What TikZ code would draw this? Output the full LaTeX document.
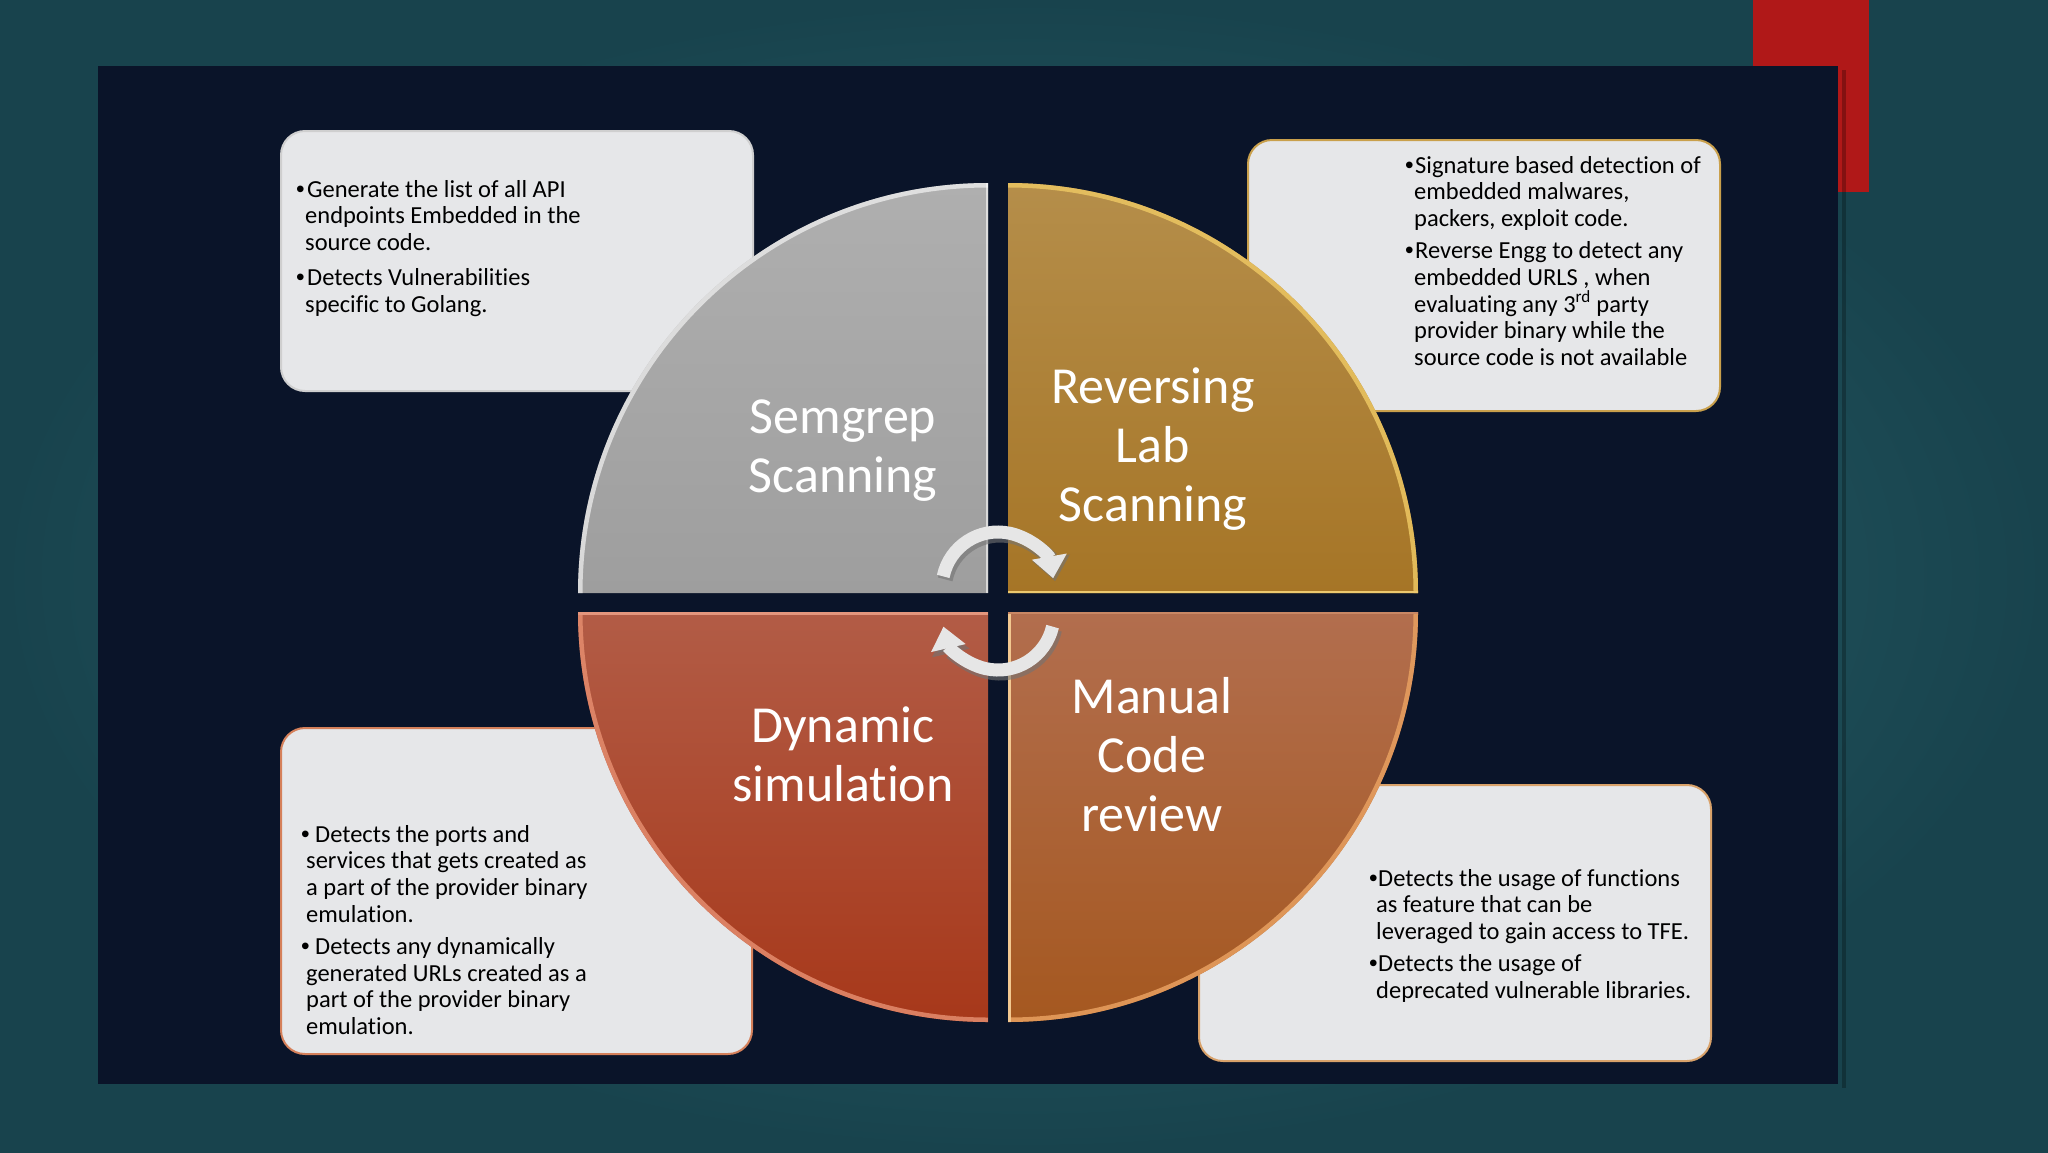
\documentclass[tikz,border=0pt]{standalone}
\usepackage{fontspec}
\setmainfont{Carlito}[Ligatures=NoCommon]
\newfontfamily\bulfont{Liberation Sans}
\usetikzlibrary{arrows.meta}
\definecolor{bgin}{HTML}{2D6872}
\definecolor{bgout}{HTML}{18434D}
\definecolor{panel}{HTML}{0A1429}
\definecolor{redbar}{HTML}{B01818}
\definecolor{boxfill}{HTML}{E6E7E9}
\definecolor{b1}{HTML}{CFCFCF}
\definecolor{b2}{HTML}{C9A04C}
\definecolor{b3}{HTML}{D5805A}
\definecolor{b4}{HTML}{D9A26A}
\definecolor{arrowc}{HTML}{E6E6E6}
\definecolor{graytop}{RGB}{175,175,175}
\definecolor{graybot}{RGB}{158,158,158}
\definecolor{goldtop}{RGB}{181,142,74}
\definecolor{goldbot}{RGB}{166,117,38}
\definecolor{goldrim}{RGB}{236,198,98}
\definecolor{goldedge}{RGB}{236,200,110}
\definecolor{redtop}{RGB}{178,92,70}
\definecolor{redbot}{RGB}{167,56,26}
\definecolor{redrim}{RGB}{228,140,110}
\definecolor{rededge}{RGB}{228,150,125}
\definecolor{ortop}{RGB}{178,110,78}
\definecolor{orbot}{RGB}{165,88,32}
\definecolor{orrim}{RGB}{232,160,96}
\definecolor{oredge}{RGB}{242,200,144}
\definecolor{ortopedge}{RGB}{200,135,100}
\newcommand{\bpara}[3]{\noindent\hangindent=#2\hangafter=1 \makebox[#1][l]{\bulfont •}#3\par}
\tikzset{
  tbox/.style={rectangle, rounded corners=24pt, fill=boxfill, line width=2pt, inner sep=0pt, anchor=north west},
  btext/.style={anchor=base west, inner sep=0pt, text=black, font=\fontsize{24.5}{26.8}\selectfont},
  qlabel/.style={anchor=base, inner sep=0pt, text=white, font=\fontsize{52}{59}\selectfont},
  cyc/.style={line width=13pt, draw=arrowc, -{Triangle[width=34pt,length=22pt,fill=arrowc]}},
  cycshadow/.style={line width=15pt, draw=black!55, opacity=0.6, -{Triangle[width=37pt,length=24pt]}},
}
\begin{document}
\begin{tikzpicture}[x=1pt,y=-1pt]
\useasboundingbox (0,0) rectangle (2048,1152);
% background
\shade[inner color=bgin, outer color=bgout] (0,0) rectangle (2048,1152);
\fill[redbar] (1753,0) rectangle (1869,192);
\fill[black, opacity=0.25] (1842,70) rectangle (1846,1088);
\fill[panel] (98,66) rectangle (1838,1084);

% text boxes
\node[tbox, draw=b1, minimum width=472pt, minimum height=260pt] (box1) at (280,130) {};
\node[tbox, draw=b2, minimum width=472pt, minimum height=271pt] (box2) at (1247,139) {};
\node[tbox, draw=b3, minimum width=471pt, minimum height=326pt] (box3) at (280,727) {};
\node[tbox, draw=b4, minimum width=512pt, minimum height=276pt] (box4) at (1198,784) {};

\node[btext] (t1) at (296,197) {\parbox[t]{440pt}{%
\bpara{11pt}{9pt}{Generate the list of all API\newline endpoints Embedded in the\newline source code.}\vspace{8pt}%
\bpara{11pt}{9pt}{Detects Vulnerabilities\newline specific to Golang.}}};

\node[btext] (t2) at (1405,173) {\parbox[t]{440pt}{%
\bpara{10pt}{9pt}{Signature based detection of\newline embedded malwares,\newline packers, exploit code.}\vspace{5pt}%
\bpara{10pt}{9pt}{Reverse Engg to detect any\newline embedded URLS , when\newline evaluating any 3\textsuperscript{rd} party\newline provider binary while the\newline source code is not available}}};

\node[btext] (t3) at (301,842) {\parbox[t]{440pt}{%
\bpara{14pt}{5pt}{Detects the ports and\newline services that gets created as\newline a part of the provider binary\newline emulation.}\vspace{5pt}%
\bpara{14pt}{5pt}{Detects any dynamically\newline generated URLs created as a\newline part of the provider binary\newline emulation.}}};

\node[btext] (t4) at (1369,886) {\parbox[t]{440pt}{%
\bpara{9pt}{7pt}{Detects the usage of functions\newline as feature that can be\newline leveraged to gain access to TFE.}\vspace{5pt}%
\bpara{9pt}{7pt}{Detects the usage of\newline deprecated vulnerable libraries.}}};

% quadrants
\shade[top color=graytop, bottom color=graybot]
  (988,593) -- ++(180:410) arc[start angle=180, end angle=270, radius=410] -- cycle;
\begin{scope}
  \clip (988,593) -- ++(180:410) arc[start angle=180, end angle=270, radius=410] -- cycle;
  \draw[white, opacity=0.6, line width=9pt] (578,593) arc[start angle=180, end angle=270, radius=410];
  \draw[white, opacity=0.6, line width=5pt] (988,183) -- (988,593);
\end{scope}

\shade[top color=goldtop, bottom color=goldbot]
  (1008,593) -- ++(270:410) arc[start angle=270, end angle=360, radius=410] -- cycle;
\begin{scope}
  \clip (1008,593) -- ++(270:410) arc[start angle=270, end angle=360, radius=410] -- cycle;
  \draw[goldrim, opacity=0.85, line width=9pt] (1008,183) arc[start angle=270, end angle=360, radius=410];
  \draw[goldedge, line width=5pt] (1008,593) -- (1418,593);
\end{scope}

\shade[top color=redtop, bottom color=redbot]
  (988,612) -- ++(90:410) arc[start angle=90, end angle=180, radius=410] -- cycle;
\begin{scope}
  \clip (988,612) -- ++(90:410) arc[start angle=90, end angle=180, radius=410] -- cycle;
  \draw[redrim, opacity=0.85, line width=9pt] (988,1022) arc[start angle=90, end angle=180, radius=410];
  \draw[rededge, line width=5pt] (578,612) -- (988,612);
\end{scope}

\shade[top color=ortop, bottom color=orbot]
  (1008,612) -- ++(0:410) arc[start angle=0, end angle=90, radius=410] -- cycle;
\begin{scope}
  \clip (1008,612) -- ++(0:410) arc[start angle=0, end angle=90, radius=410] -- cycle;
  \draw[orrim, opacity=0.85, line width=9pt] (1418,612) arc[start angle=0, end angle=90, radius=410];
  \draw[oredge, line width=5pt] (1008,612) -- (1008,1022);
  \draw[ortopedge, line width=3pt] (1008,612) -- (1418,612);
\end{scope}

% labels
\node[qlabel] (q1) at (843,433) {\begin{tabular}[t]{@{}c@{}}Semgrep\\Scanning\end{tabular}};
\node[qlabel] (q2) at (1153,403) {\begin{tabular}[t]{@{}c@{}}Reversing\\Lab\\Scanning\end{tabular}};
\node[qlabel] (q3) at (843,742) {\begin{tabular}[t]{@{}c@{}}Dynamic\\simulation\end{tabular}};
\node[qlabel] (q4) at (1152,713) {\begin{tabular}[t]{@{}c@{}}Manual\\Code\\review\end{tabular}};

% cycle arrows
\coordinate (ca) at (998,588);
\coordinate (cb) at (998,614);
\draw[cycshadow] ([shift={(192:56)}]1000,591) arc[start angle=192, end angle=350, radius=56];
\draw[cycshadow] ([shift={(13:56)}]1000,617) arc[start angle=13, end angle=167, radius=56];
\draw[cyc] ([shift={(192:56)}]ca) arc[start angle=192, end angle=350, radius=56];
\draw[cyc] ([shift={(13:56)}]cb) arc[start angle=13, end angle=167, radius=56];
\end{tikzpicture}
\end{document}
